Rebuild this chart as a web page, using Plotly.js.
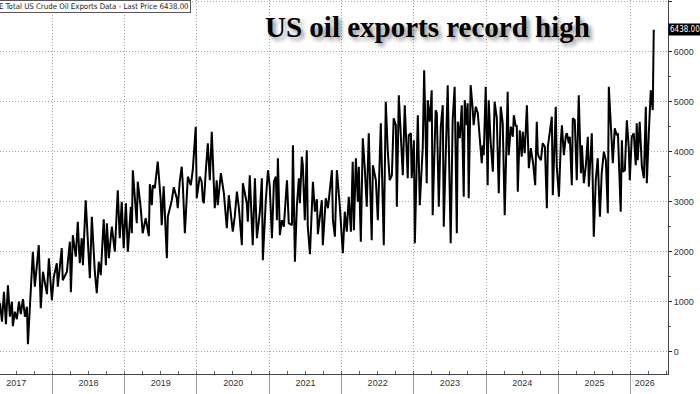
<!DOCTYPE html>
<html>
<head>
<meta charset="utf-8">
<script src="https://cdn.plot.ly/plotly-3.0.1.min.js"></script>
<style>
  html, body { margin: 0; padding: 0; background: #fff; }
  #chart { width: 700px; height: 394px; }
</style>
</head>
<body>
<div id="chart"></div>
<script>
// Time of each reading as a decimal year
const dateYears = [
  2017.274, 2017.302, 2017.329, 2017.357, 2017.385, 2017.412, 2017.440, 2017.454, 2017.481, 2017.509,
  2017.537, 2017.564, 2017.592, 2017.620, 2017.647, 2017.661, 2017.689, 2017.730, 2017.758, 2017.813,
  2017.841, 2017.869, 2017.924, 2017.952, 2017.993, 2018.021, 2018.062, 2018.076, 2018.131, 2018.145,
  2018.201, 2018.242, 2018.256, 2018.284, 2018.325, 2018.353, 2018.380, 2018.408, 2018.422, 2018.463,
  2018.519, 2018.546, 2018.588, 2018.616, 2018.643, 2018.671, 2018.712, 2018.740, 2018.754, 2018.782,
  2018.823, 2018.865, 2018.906, 2018.934, 2018.961, 2018.989, 2019.017, 2019.044, 2019.086, 2019.100,
  2019.114, 2019.169, 2019.183, 2019.224, 2019.252, 2019.293, 2019.335, 2019.349, 2019.376, 2019.390,
  2019.418, 2019.459, 2019.501, 2019.515, 2019.542, 2019.584, 2019.598, 2019.653, 2019.681, 2019.722,
  2019.736, 2019.764, 2019.791, 2019.805, 2019.833, 2019.874, 2019.916, 2019.943, 2019.985, 2019.999,
  2020.040, 2020.068, 2020.082, 2020.096, 2020.123, 2020.151, 2020.179, 2020.206, 2020.248, 2020.275,
  2020.289, 2020.331, 2020.372, 2020.414, 2020.441, 2020.497, 2020.524, 2020.552, 2020.580, 2020.621,
  2020.635, 2020.690, 2020.704, 2020.732, 2020.773, 2020.801, 2020.829, 2020.870, 2020.898, 2020.912,
  2020.953, 2020.981, 2021.008, 2021.036, 2021.064, 2021.091, 2021.105, 2021.119, 2021.147, 2021.174,
  2021.202, 2021.230, 2021.244, 2021.271, 2021.313, 2021.327, 2021.354, 2021.382, 2021.410, 2021.423,
  2021.451, 2021.465, 2021.493, 2021.520, 2021.534, 2021.562, 2021.603, 2021.631, 2021.658, 2021.672,
  2021.728, 2021.741, 2021.783, 2021.811, 2021.866, 2021.880, 2021.907, 2021.935, 2021.977, 2022.018,
  2022.046, 2022.073, 2022.101, 2022.129, 2022.156, 2022.170, 2022.198, 2022.226, 2022.239, 2022.267,
  2022.295, 2022.322, 2022.350, 2022.378, 2022.419, 2022.433, 2022.474, 2022.502, 2022.544, 2022.585,
  2022.613, 2022.640, 2022.668, 2022.696, 2022.723, 2022.751, 2022.765, 2022.793, 2022.848, 2022.876,
  2022.917, 2022.931, 2022.959, 2022.972, 2023.000, 2023.014, 2023.055, 2023.083, 2023.125, 2023.145,
  2023.180, 2023.194, 2023.221, 2023.249, 2023.263, 2023.304, 2023.318, 2023.346, 2023.373, 2023.401,
  2023.415, 2023.470, 2023.512, 2023.539, 2023.567, 2023.595, 2023.609, 2023.636, 2023.664, 2023.692,
  2023.705, 2023.733, 2023.747, 2023.761, 2023.788, 2023.816, 2023.830, 2023.858, 2023.885, 2023.940,
  2023.954, 2023.968, 2023.996, 2024.024, 2024.037, 2024.065, 2024.093, 2024.120, 2024.148, 2024.176,
  2024.203, 2024.231, 2024.259, 2024.300, 2024.314, 2024.342, 2024.369, 2024.383, 2024.411, 2024.425,
  2024.438, 2024.466, 2024.494, 2024.508, 2024.535, 2024.563, 2024.591, 2024.618, 2024.653, 2024.680,
  2024.701, 2024.715, 2024.729, 2024.757, 2024.784, 2024.812, 2024.840, 2024.853, 2024.881, 2024.909,
  2024.923, 2024.964, 2024.978, 2025.006, 2025.033, 2025.047, 2025.075, 2025.102, 2025.116, 2025.144,
  2025.158, 2025.185, 2025.199, 2025.227, 2025.254, 2025.282, 2025.310, 2025.324, 2025.351, 2025.379,
  2025.407, 2025.420, 2025.462, 2025.490, 2025.517, 2025.545, 2025.573, 2025.600, 2025.628, 2025.656,
  2025.683, 2025.697, 2025.739, 2025.752, 2025.780, 2025.808, 2025.822, 2025.863, 2025.877, 2025.891,
  2025.918, 2025.946, 2025.974, 2025.988, 2026.015, 2026.043, 2026.071, 2026.084, 2026.098, 2026.126,
  2026.154, 2026.181, 2026.209, 2026.223, 2026.250, 2026.278, 2026.306, 2026.320
];

// Total US crude oil exports, thousand barrels per day
const exportsKbd = [
  970, 600, 1200, 550, 1330, 700, 1000, 510, 800, 650,
  1000, 750, 1050, 700, 900, 150, 900, 2000, 1300, 2130,
  870, 1600, 1150, 1870, 1030, 1500, 1770, 1300, 2070, 1430,
  1600, 2200, 1190, 2330, 1900, 2600, 1770, 2270, 1730, 3030,
  1470, 2700, 1600, 1170, 1800, 1530, 2650, 1730, 2570, 1870,
  2500, 2000, 3230, 2270, 3000, 2070, 2970, 2000, 2900, 2370,
  3630, 2570, 3400, 2870, 2370, 2670, 2310, 3350, 2930, 3330,
  3270, 3800, 3030, 2530, 3310, 1870, 2700, 3030, 3290, 3070,
  2870, 3400, 3700, 3400, 2370, 3500, 3330, 3630, 4500, 3070,
  3500, 3400, 3030, 2970, 3630, 4170, 3430, 4400, 2870, 3430,
  2930, 3570, 3170, 2470, 3130, 2400, 2700, 3200, 2870, 2130,
  3370, 2970, 2600, 3530, 2130, 3470, 2270, 2800, 3470, 1830,
  3030, 3630, 3300, 2270, 3400, 3500, 2630, 3870, 2330, 2630,
  2500, 3000, 3430, 2570, 2530, 4130, 1800, 2930, 3470, 2970,
  3900, 3730, 2630, 4030, 2500, 1950, 3400, 2800, 3050, 2350,
  3030, 2130, 3070, 2870, 3630, 2630, 2300, 3630, 2900, 1970,
  2800, 2400, 3100, 2400, 3800, 2430, 3870, 3000, 3700, 2200,
  4270, 3670, 2900, 4370, 2230, 3730, 3430, 2630, 4570, 2130,
  5000, 4030, 3430, 3530, 4670, 4530, 2900, 5130, 3530, 4930,
  3470, 4330, 4370, 3470, 4230, 2170, 4730, 2930, 4100, 5630,
  3370, 5030, 4600, 5230, 2730, 4830, 4770, 2900, 4500, 4930,
  2500, 5330, 2170, 4630, 5300, 2370, 4600, 4270, 4930, 3100,
  5030, 4530, 4970, 3070, 5330, 4870, 4530, 4900, 4770, 3770,
  4130, 3930, 5300, 3330, 5030, 4200, 3600, 5000, 4670, 3170,
  4900, 4570, 2730, 5200, 3930, 4500, 4300, 4730, 4500, 4530,
  3200, 4430, 3900, 4400, 3970, 4930, 3670, 4070, 3750, 3330,
  4600, 3970, 3900, 3830, 4170, 4100, 2870, 4100, 4470, 4700,
  3130, 4900, 3700, 3100, 4230, 4530, 3930, 4330, 4370, 4170,
  4300, 3330, 4670, 4630, 3430, 5130, 3570, 4130, 3370, 3730,
  4300, 3300, 4370, 2300, 3430, 3870, 2700, 3570, 4000, 3830,
  2770, 5300, 4170, 3770, 4470, 4330, 4370, 2800, 4230, 3600,
  3630, 4630, 4070, 3430, 4300, 4370, 3730, 4570, 3830, 4600,
  3700, 3470, 4900, 3370, 4370, 5230, 4830, 6438
];

const yTickVals = [0, 1000, 2000, 3000, 4000, 5000, 6000, 7000];
const yearLabels = ['2017', '2018', '2019', '2020', '2021', '2022', '2023', '2024', '2025', '2026'];
// where each year label sits (mid-year; the last, partial year is centred on its visible part)
const yearLabelAt = ['2017-07-02', '2018-07-02', '2019-07-02', '2020-07-02', '2021-07-02',
                     '2022-07-02', '2023-07-02', '2024-07-02', '2025-07-02', '2026-03-13'];
const seriesName = 'Total US Crude Oil Exports Data';
const lastPrice = 6438.00;
const chartTitle = 'US oil exports record high';

function yearToDate(y) {
  const yr = Math.floor(y);
  const start = Date.UTC(yr, 0, 1);
  const end = Date.UTC(yr + 1, 0, 1);
  return new Date(start + (y - yr) * (end - start)).toISOString().slice(0, 10);
}
const dates = dateYears.map(yearToDate);

const xRange = ['2017-04-11', '2026-07-08'];

const trace = {
  type: 'scatter',
  mode: 'lines',
  x: dates,
  y: exportsKbd,
  line: { color: '#000000', width: 2 },
  hoverinfo: 'skip'
};

// invisible helper trace that carries the year-label axis
const labelTrace = {
  type: 'scatter',
  mode: 'lines',
  x: xRange,
  y: [null, null],
  xaxis: 'x2',
  yaxis: 'y',
  hoverinfo: 'skip',
  showlegend: false
};

const axisFont = { family: 'Liberation Sans, Arial, sans-serif', size: 9, color: '#333' };
const gridDash = '1px,2px';

const layout = {
  width: 700,
  height: 394,
  margin: { l: 0, r: 32, t: 0, b: 20 },
  paper_bgcolor: '#ffffff',
  plot_bgcolor: '#ffffff',
  showlegend: false,
  xaxis: {
    type: 'date',
    range: xRange,
    dtick: 'M12',
    tick0: '2017-01-01',
    showticklabels: false,
    showgrid: true,
    gridcolor: '#a8a8a8',
    griddash: gridDash,
    gridwidth: 1,
    showline: true,
    linecolor: '#444',
    linewidth: 1,
    ticks: 'outside',
    ticklen: 20,
    tickcolor: '#9a9a9a',
    tickwidth: 1,
    minor: { dtick: 'M3', ticks: 'inside', ticklen: 3, tickcolor: '#666', showgrid: false },
    zeroline: false,
    fixedrange: true
  },
  xaxis2: {
    type: 'date',
    overlaying: 'x',
    anchor: 'y',
    side: 'bottom',
    range: xRange,
    tickvals: yearLabelAt,
    ticktext: yearLabels,
    ticks: '',
    showgrid: false,
    showline: false,
    zeroline: false,
    tickfont: axisFont,
    ticklabelstandoff: 2,
    fixedrange: true
  },
  yaxis: {
    side: 'right',
    range: [-446, 7034],
    tickvals: yTickVals,
    showgrid: true,
    gridcolor: '#a8a8a8',
    griddash: gridDash,
    gridwidth: 1,
    showline: true,
    linecolor: '#444',
    linewidth: 1,
    ticks: 'outside',
    ticklen: 3,
    tickcolor: '#222',
    tickfont: axisFont,
    minor: { dtick: 500, tick0: 0, ticks: 'outside', ticklen: 2, tickcolor: '#555', showgrid: false },
    zeroline: false,
    fixedrange: true
  },
  annotations: [
    {
      xref: 'paper', yref: 'paper', x: 0, y: 1,
      xanchor: 'left', yanchor: 'top', xshift: -3,
      text: 'E ' + seriesName + ' - Last Price ' + lastPrice.toFixed(2),
      showarrow: false,
      font: { family: 'Liberation Sans Narrow, DejaVu Sans Condensed, Arial Narrow, Liberation Sans, sans-serif', size: 7.8, color: '#222' },
      bgcolor: '#ffffff', bordercolor: '#555', borderwidth: 1, borderpad: 1
    },
    {
      xref: 'paper', yref: 'paper', x: 0.640, y: 0.928,
      xanchor: 'center', yanchor: 'middle',
      text: chartTitle,
      showarrow: false,
      font: { family: 'Liberation Serif, Times New Roman, serif', size: 29, color: '#000', weight: 700,
              shadow: '3px 3px 4px rgba(0,0,0,0.45)' }
    },
    {
      xref: 'paper', yref: 'y', x: 1, y: lastPrice,
      xanchor: 'left', yanchor: 'middle', xshift: 0,
      text: lastPrice.toFixed(2),
      showarrow: false,
      font: { family: 'Liberation Sans Narrow, DejaVu Sans Condensed, Liberation Sans, sans-serif', size: 8, color: '#ffffff' },
      bgcolor: '#000000', borderpad: 1
    }
  ]
};

Plotly.newPlot('chart', [trace, labelTrace], layout, { staticPlot: true, displayModeBar: false });
</script>
</body>
</html>
